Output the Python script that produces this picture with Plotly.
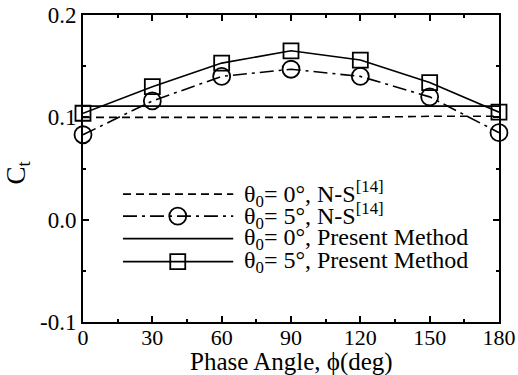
import plotly.graph_objects as go

# ---- data ----
phase = [0, 30, 60, 90, 120, 150, 180]
ns_0deg = [0.100, 0.100, 0.100, 0.100, 0.100, 0.101, 0.101]
ns_5deg = [0.083, 0.116, 0.140, 0.147, 0.140, 0.120, 0.085]
pm_0deg = [0.111, 0.111, 0.111, 0.111, 0.111, 0.111, 0.111]
pm_5deg = [0.104, 0.130, 0.153, 0.165, 0.156, 0.134, 0.105]

x_ticks = [0, 30, 60, 90, 120, 150, 180]
y_ticks = [-0.1, 0.0, 0.1, 0.2]
y_tick_labels = ["-0.1", "0.0", "0.1", "0.2"]

labels = [
    "θ<sub>0</sub>= 0°, N-S<sup>[14]</sup>",
    "θ<sub>0</sub>= 5°, N-S<sup>[14]</sup>",
    "θ<sub>0</sub>= 0°, Present Method",
    "θ<sub>0</sub>= 5°, Present Method",
]

FONT = "Liberation Serif, Times New Roman, serif"
BLACK = "black"

styles = [
    dict(dash="8px,5px", symbol=None),
    dict(dash="14px,5px,3px,5px", symbol="circle-open"),
    dict(dash="solid", symbol=None),
    dict(dash="solid", symbol="square-open"),
]
series = [ns_0deg, ns_5deg, pm_0deg, pm_5deg]
msize = {"circle-open": 17, "square-open": 15}

fig = go.Figure()
for ys, st in zip(series, styles):
    mode = "lines+markers" if st["symbol"] else "lines"
    fig.add_trace(go.Scatter(
        x=phase, y=ys, mode=mode,
        line=dict(color=BLACK, width=1.6, dash=st["dash"]),
        marker=dict(symbol=st["symbol"] or "circle", size=msize.get(st["symbol"], 6),
                    color=BLACK, line=dict(color=BLACK, width=1.8)),
        showlegend=False, cliponaxis=False,
    ))

# ---- custom legend (long line samples, like the original) ----
leg_x0, leg_x1, leg_xm = 17.3, 65.0, 41.0
leg_rows = [0.0250, 0.0035, -0.0185, -0.0410]
leg_text_x = 69.0
for ys, st, lab in zip(leg_rows, styles, labels):
    fig.add_trace(go.Scatter(
        x=[leg_x0, leg_x1], y=[ys, ys], mode="lines",
        line=dict(color=BLACK, width=1.6, dash=st["dash"]),
        showlegend=False, hoverinfo="skip",
    ))
    if st["symbol"]:
        fig.add_trace(go.Scatter(
            x=[leg_xm], y=[ys], mode="markers",
            marker=dict(symbol=st["symbol"], size=msize[st["symbol"]],
                        color=BLACK, line=dict(color=BLACK, width=1.8)),
            showlegend=False, hoverinfo="skip",
        ))
    fig.add_annotation(x=leg_text_x, y=ys, xref="x", yref="y", text=lab,
                       showarrow=False, xanchor="left", yanchor="middle",
                       font=dict(family=FONT, size=24, color=BLACK))

axis_common = dict(
    showgrid=False, zeroline=False, showline=True, linecolor=BLACK, linewidth=2,
    mirror="allticks", ticks="inside", ticklen=6, tickwidth=1.5, tickcolor=BLACK,
    automargin=False, ticklabeloverflow="allow",
)

fig.update_layout(
    width=518, height=375,
    margin=dict(l=83, r=19, t=15, b=53),
    paper_bgcolor="white", plot_bgcolor="white",
    xaxis=dict(range=[0, 180], tickvals=x_ticks,
               tickfont=dict(family=FONT, size=22, color=BLACK),
               ticklabelstandoff=-5,
               minor=dict(dtick=15, ticks="inside", ticklen=3, tickcolor=BLACK, showgrid=False),
               **axis_common),
    yaxis=dict(range=[-0.1, 0.2], tickvals=y_ticks, ticktext=y_tick_labels,
               tickfont=dict(family=FONT, size=23, color=BLACK),
               minor=dict(dtick=0.05, tick0=0, ticks="inside", ticklen=3, tickcolor=BLACK, showgrid=False),
               **axis_common),
    font=dict(family=FONT, color=BLACK),
)

# axis titles
fig.add_annotation(x=0.5, y=0, xref="paper", yref="paper", yshift=-40,
                   text="Phase Angle, ϕ(deg)", showarrow=False,
                   xanchor="center", yanchor="middle",
                   font=dict(family=FONT, size=25, color=BLACK))
fig.add_annotation(x=0, y=0.5, xref="paper", yref="paper", xshift=-66, yshift=-4,
                   text="C<sub>t</sub>", showarrow=False, textangle=-90,
                   xanchor="center", yanchor="middle",
                   font=dict(family=FONT, size=27, color=BLACK))

# remove the default 8px page margin so the figure sits at the window origin
fig.write_html("out.html", config={"displayModeBar": False},
               post_script="document.body.style.margin='0';")
